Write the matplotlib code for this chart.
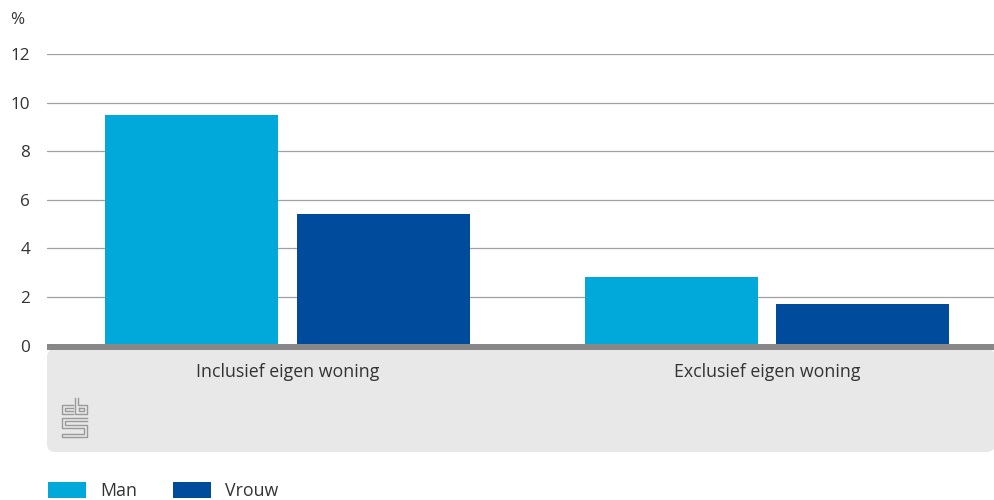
import matplotlib
matplotlib.use("Agg")
import matplotlib.pyplot as plt
from matplotlib.patches import Rectangle, FancyBboxPatch
from matplotlib.lines import Line2D

plt.rcParams['font.family'] = ['Open Sans', 'DejaVu Sans']

categorieen = ["Inclusief eigen woning", "Exclusief eigen woning"]
series = ["Man", "Vrouw"]
man = [9.5, 2.8]
vrouw = [5.4, 1.7]
kleuren = ["#00a9d9", "#004b9b"]
yticks = [0, 2, 4, 6, 8, 10, 12]

W, H = 995, 500
fig = plt.figure(figsize=(W / 100, H / 100), dpi=100)

def fx(x):
    return x / W

def fy(y):
    return 1 - y / H

# grijze band onder de as
band = FancyBboxPatch((fx(47), fy(452)), fx(995) - fx(47), fy(349) - fy(452),
                      boxstyle="round,pad=0,rounding_size=0.008",
                      transform=fig.transFigure, facecolor="#e8e8e8",
                      edgecolor="none", zorder=0, mutation_aspect=2)
fig.patches.append(band)

y0, y12 = 345.5, 54
ax = fig.add_axes([fx(47), fy(y0), fx(995) - fx(47), fy(y12) - fy(y0)])
ax.set_xlim(-0.5016, 1.4755)
ax.set_ylim(0, 12)

breedte = 0.361
offset = 0.1997
x = [0, 1]
ax.bar([i - offset for i in x], man, width=breedte, color=kleuren[0], zorder=3)
ax.bar([i + offset for i in x], vrouw, width=breedte, color=kleuren[1], zorder=3)

for t in yticks[1:]:
    ax.axhline(t, color="#a0a0a0", linewidth=0.9, zorder=1)

ax.set_yticks(yticks)
ax.set_yticklabels([str(t) for t in yticks], fontsize=12.3, color="#333333")
ax.tick_params(axis="y", length=0, pad=12)
ax.set_xticks([])
for s in ax.spines.values():
    s.set_visible(False)
ax.patch.set_alpha(0)

# dikke as-lijn
fig.patches.append(Rectangle((fx(47), fy(349.5)), fx(995) - fx(47), fy(343.5) - fy(349.5),
                             transform=fig.transFigure, facecolor="#888888",
                             edgecolor="none", zorder=5))

fig.text(fx(10), fy(20), "%", fontsize=12.3, color="#333333", va="center", ha="left")

for i, c in enumerate(categorieen):
    xc = ax.transData.transform((x[i], 0))[0] / fig.dpi / fig.get_figwidth()
    fig.text(xc, fy(372), c, fontsize=12.8, color="#333333", ha="center", va="center")

# cbs logo (vereenvoudigd)
lc = "#9a9a9a"
lw = 1.0
logo = [
    [(73, 405), (62, 405), (62, 414), (73, 414)],
    [(73, 408), (65, 408), (65, 411), (73, 411)],
    [(75, 398), (75, 414), (87, 414), (87, 405), (78, 405), (78, 398)],
    [(79, 408), (84, 408), (84, 411), (79, 411), (79, 408)],
    [(87, 418), (62, 418), (62, 428), (84, 428), (84, 434), (62, 434), (62, 437), (87, 437), (87, 425), (65, 425), (65, 421), (87, 421)],
]
for pts in logo:
    fig.lines.append(Line2D([fx(p[0]) for p in pts], [fy(p[1]) for p in pts],
                            transform=fig.transFigure, color=lc, linewidth=lw, zorder=6))

# legenda
legx = [48, 173]
for i, s in enumerate(series):
    fig.patches.append(Rectangle((fx(legx[i]), fy(498)), fx(38), fy(482) - fy(498),
                                 transform=fig.transFigure, facecolor=kleuren[i],
                                 edgecolor="none"))
    fig.text(fx(legx[i] + 52), fy(491), s, fontsize=12.8, color="#333333",
             ha="left", va="center")

fig.savefig("out.png", dpi=100)
